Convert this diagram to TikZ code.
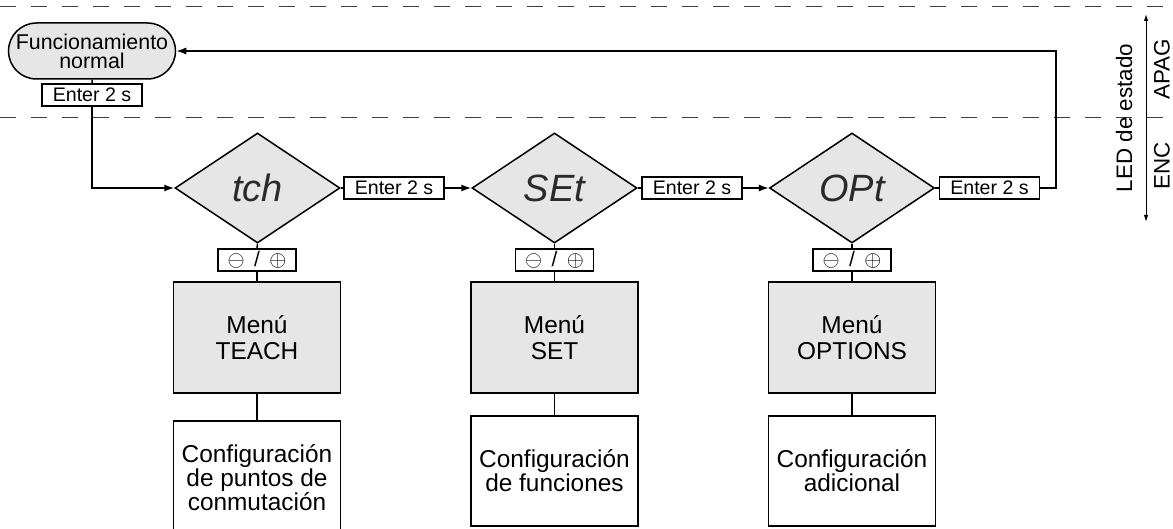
\documentclass[tikz,border=0pt]{standalone}
\usepackage{fontspec}
\setmainfont{Liberation Sans}
\usepackage{tikz}
\usetikzlibrary{shapes,shapes.geometric,shapes.misc,arrows.meta}

\definecolor{boxgray}{HTML}{E6E6E6}
\definecolor{segdark}{HTML}{2A2A2A}

\begin{document}
\begin{tikzpicture}[x=0.5pt, y=-0.5pt,
  line/.style={-{Latex[length=5pt,width=3.6pt]}, draw=black, line width=0.75pt},
  link/.style={draw=black, line width=0.75pt},
  keybox/.style={rectangle, draw=black, fill=white, line width=0.9pt, minimum width=50pt, minimum height=11pt, inner sep=0, font=\fontsize{9.8}{10}\selectfont},
  pmbox/.style={rectangle, draw=black, fill=white, line width=0.9pt, minimum width=39pt, minimum height=11pt, inner sep=0, font=\fontsize{10.5}{11}\selectfont},
  display/.style={diamond, draw=black, fill=boxgray, line width=0.75pt, inner sep=0, minimum width=82.5pt, minimum height=55pt, text=segdark, font=\fontsize{19}{19}\selectfont\itshape},
  menu/.style={rectangle, draw=black, fill=boxgray, line width=0.9pt, minimum width=83.5pt, minimum height=55.5pt, align=center, font=\fontsize{12.2}{13}\selectfont},
  conf/.style={rectangle, draw=black, fill=white, line width=0.9pt, minimum width=83.5pt, align=center, font=\fontsize{12.2}{12}\selectfont},
  zone/.style={draw=black!75, line width=0.5pt, dash pattern=on 8pt off 7.5pt},
  side/.style={font=\fontsize{11.2}{12}\selectfont, rotate=90, inner sep=0}]

  \useasboundingbox (0,0) rectangle (1173,529);

  % LED zones
  \draw[zone] (0,7) -- (1173,7);
  \draw[zone] (0,118) -- (1165,118);

  \node[rounded rectangle, draw=black, fill=boxgray, line width=0.75pt, inner sep=0, minimum width=83.5pt, minimum height=28pt, align=center, font=\fontsize{10.7}{9.5}\selectfont] (normal) at (92,51) {Funcionamiento\\normal};
  \node[keybox] (enterNormal) at (92,95) {Enter 2 s};

  \node[display] (dispTch) at (257.5,188) {tch};
  \node[keybox]  (enterTch) at (394,188) {Enter 2 s};
  \node[display] (dispSet) at (554.5,188) {SEt};
  \node[keybox]  (enterSet) at (692,188) {Enter 2 s};
  \node[display] (dispOpt) at (852,188) {OPt};
  \node[keybox]  (enterOpt) at (989.5,188) {Enter 2 s};

  \node[pmbox] (keysTch) at (257,260) {$\ominus$\ \,/\ \,$\oplus$};
  \node[pmbox] (keysSet) at (554.5,260) {$\ominus$\ \,/\ \,$\oplus$};
  \node[pmbox] (keysOpt) at (852,260) {$\ominus$\ \,/\ \,$\oplus$};

  \node[menu] (menuTeach)   at (257,337.5)   {Menú\\TEACH};
  \node[menu] (menuSet)     at (554.5,337.5) {Menú\\SET};
  \node[menu] (menuOptions) at (852,337.5)   {Menú\\OPTIONS};

  \node[conf, minimum height=57pt] (confTeach)   at (257,478)   {Configuración\\de puntos de\\conmutación};
  \node[conf, minimum height=55pt] (confSet)     at (554.5,471) {Configuración\\de funciones};
  \node[conf, minimum height=55pt] (confOptions) at (852,471)   {Configuración\\adicional};

  \coordinate (back) at (1056,51);
  \coordinate (ledTop) at (1146,14);
  \coordinate (ledBot) at (1146,222);

  \draw[link] (normal) -- (enterNormal);
  \draw[line] (enterNormal.south) |- (dispTch.west);

  \draw[link] (dispTch.east) -- (enterTch.west);
  \draw[line] (enterTch.east) -- (dispSet.west);
  \draw[link] (dispSet.east) -- (enterSet.west);
  \draw[line] (enterSet.east) -- (dispOpt.west);
  \draw[link] (dispOpt.east) -- (enterOpt.west);
  \draw[line] (enterOpt.east) -| (back) -- (normal.east);

  \foreach \d/\k/\m/\c in {dispTch/keysTch/menuTeach/confTeach, dispSet/keysSet/menuSet/confSet, dispOpt/keysOpt/menuOptions/confOptions}{
    \draw[link] (\d.south) -- (\k.north);
    \draw[link] (\k) -- (\m);
    \draw[link] (\m) -- (\c);
  }

  % status LED
  \draw[{Latex[length=3.5pt,width=2.2pt]}-{Latex[length=3.5pt,width=2.2pt]}, line width=0.5pt] (ledTop) -- (ledBot);
  \node[side] (ledText) at (1124,118) {LED de estado};
  \node[side] (ledOff)  at (1162,69)  {APAG};
  \node[side] (ledOn)   at (1162,166) {ENC};
\end{tikzpicture}
\end{document}
